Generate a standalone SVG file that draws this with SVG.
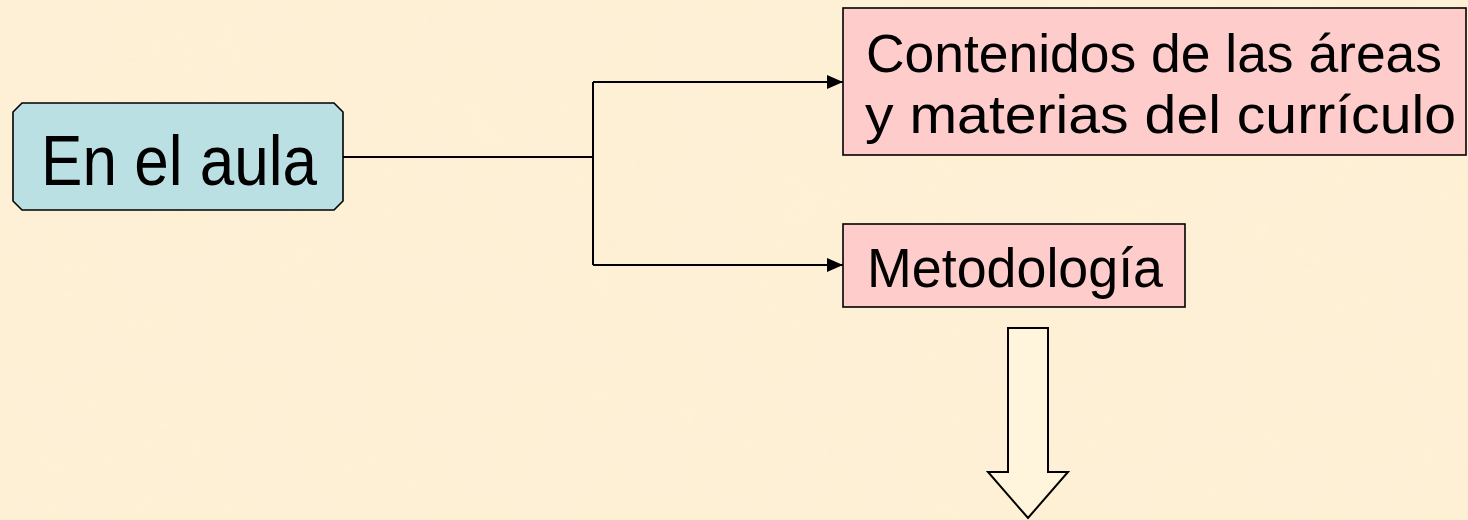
<svg xmlns="http://www.w3.org/2000/svg" width="1468" height="520" viewBox="0 0 1468 520">
<style>
.lbl{font-family:"Liberation Sans","Noto Sans",sans-serif;fill:#000}
.box{stroke:#000;stroke-width:1.6}
.pink{fill:#FFCCCC}
.blue{fill:#BBE0E3}
.con{fill:none;stroke:#000;stroke-width:2}
</style>
<defs>
<marker id="ah" viewBox="0 0 16 14" refX="16" refY="7" markerWidth="16" markerHeight="14" markerUnits="userSpaceOnUse" orient="auto">
<path d="M0,0 L16,7 L0,14 Z" fill="#000"/>
</marker>
<filter id="tex" x="0" y="0" width="100%" height="100%">
<feTurbulence type="fractalNoise" baseFrequency="0.012" numOctaves="3" seed="4"/>
<feColorMatrix type="matrix" values="0 0 0 0 0.98  0 0 0 0 0.88  0 0 0 0 0.62  0 0 0 1.2 -0.45"/>
</filter>
</defs>
<rect x="0" y="0" width="1468" height="520" fill="#FEF0D6"/>
<rect x="0" y="0" width="1468" height="520" filter="url(#tex)" opacity="0.5"/>
<g id="connectors">
<path class="con" d="M343,157 H593"/>
<path class="con" d="M593,82 V265"/>
<path class="con" d="M593,82 H843" marker-end="url(#ah)"/>
<path class="con" d="M593,265 H843" marker-end="url(#ah)"/>
</g>
<g id="node-aula">
<path class="box blue" d="M22,103 H334 L343,112 V201 L334,210 H22 L13,201 V112 Z"/>
<text class="lbl" x="41" y="185" font-size="71" textLength="276" lengthAdjust="spacingAndGlyphs">En el aula</text>
</g>
<g id="node-contenidos">
<rect class="box pink" x="843" y="8" width="623" height="147"/>
<text class="lbl" x="866" y="72" font-size="54" textLength="576" lengthAdjust="spacingAndGlyphs">Contenidos de las áreas</text>
<text class="lbl" x="865" y="133" font-size="54" textLength="591" lengthAdjust="spacingAndGlyphs">y materias del currículo</text>
</g>
<g id="node-metodologia">
<rect class="box pink" x="843" y="224" width="342" height="83"/>
<text class="lbl" x="867" y="287" font-size="55" textLength="296" lengthAdjust="spacingAndGlyphs">Metodología</text>
</g>
<g id="block-arrow">
<path d="M1008,328 H1048 V472 H1068 L1028,518 L988,472 H1008 Z" fill="#FEF5DC" stroke="#000" stroke-width="2"/>
</g>
</svg>
